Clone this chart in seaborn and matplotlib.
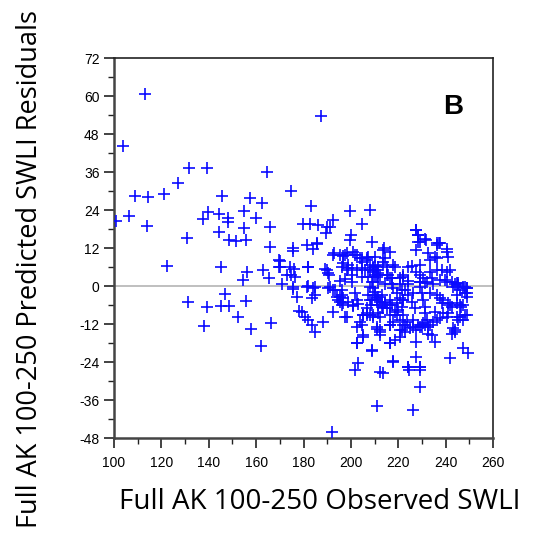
import matplotlib
matplotlib.use("Agg")
import matplotlib.pyplot as plt
import seaborn as sns
import pandas as pd
from matplotlib.ticker import MultipleLocator

# Observed SWLI (x) and predicted residuals (y)
swli_observed = [
    100.8, 106.5, 103.7, 113.2, 109.0, 114.5, 114.1, 121.1, 126.9, 131.8, 139.1, 130.7,
    137.7, 139.8, 144.3, 145.6, 148.2, 148.2, 144.4, 148.4, 151.4, 155.7, 154.9, 154.9,
    157.4, 159.8, 162.6, 164.7, 165.9, 165.9, 174.6, 175.6,
    122.2, 145.0, 156.0, 154.6, 163.0, 165.6, 170.0, 170.0, 175.4, 172.9, 174.6, 176.1,
    170.9, 175.4, 177.1, 178.2, 131.4, 139.1, 145.0, 147.0, 148.4, 138.0, 152.5, 155.6,
    158.0, 166.3, 162.2, 169.8, 169.8,
    187.4, 183.2, 199.6, 208.1, 179.9, 182.7, 186.2, 189.8, 191.2, 192.6, 189.5, 204.8,
    200.0, 199.6, 208.8, 214.1, 181.3, 185.5, 227.5, 228.2, 231.3, 228.4, 236.2, 237.3,
    240.4,
    184.1, 185.8, 192.9, 196.8, 198.2, 201.0, 202.7, 203.8, 204.9, 206.9, 208.1, 210.2,
    210.9, 209.2, 196.1, 198.9, 182.0, 189.8, 190.9, 200.3, 197.5, 204.9, 207.3, 209.4,
    210.9, 181.3, 184.8, 191.2, 175.7, 195.4, 200.3, 208.1,
    182.0, 184.1, 184.8, 183.5, 190.5, 193.3, 196.1, 195.4, 196.8, 194.7, 196.1, 201.0,
    203.1, 207.3, 208.1, 208.7, 206.6, 210.2, 210.9, 211.6, 179.5, 180.6, 182.0, 183.5,
    184.8, 188.1, 192.6, 197.5, 198.2, 203.8, 205.2, 206.6, 208.1, 210.9, 205.2, 202.4,
    209.0, 203.1, 201.7, 212.3,
    213.4, 229.2, 210.9, 226.3, 192.1, 224.6, 229.2,
    208.8, 211.6, 214.4, 217.2, 220.7, 224.2, 229.2, 232.0, 234.8, 240.4, 243.9, 245.3,
    209.4, 213.0, 210.9, 214.4, 216.5, 213.7, 211.6, 209.4, 208.8,
    217.9, 219.3, 221.4, 222.1, 221.4, 220.0, 218.6, 222.1,
    226.3, 225.6, 227.0, 226.3, 223.5, 222.8, 221.4, 220.7, 218.6, 216.5,
    229.2, 229.9, 230.6, 231.3, 231.3, 232.0, 230.6, 232.7, 232.7, 234.1, 229.2, 227.7,
    233.4, 236.2, 237.6, 238.3, 239.0, 241.1, 242.5, 241.1, 239.0, 235.5,
    246.0, 244.6, 245.3, 248.2, 248.9, 248.9, 242.5, 243.9, 235.5, 227.7,
    217.9, 224.2, 229.2, 227.7, 241.8, 247.4, 249.5, 210.9, 212.3, 216.5, 217.9,
    227.7, 228.4, 229.2, 227.7, 231.7, 232.7, 233.4, 235.5, 236.2, 237.6, 240.4, 241.1,
    213.7, 216.5, 213.7, 217.9, 209.4, 210.2, 211.6, 215.1, 216.5, 222.1, 224.2,
    225.6, 229.2, 227.7, 229.2, 230.6, 229.2, 231.3, 233.4, 236.2, 238.3, 240.4, 241.8,
    234.1, 237.6, 239.7, 242.5, 244.6, 248.2, 236.2,
    192.6, 195.4, 197.5, 201.7, 204.5, 206.6, 207.3,
    196.8, 198.9, 198.2, 200.3, 202.4, 204.5, 205.9, 208.1, 209.4, 211.6, 213.7, 215.1, 218.6,
    212.3, 215.8, 217.2, 220.7, 222.1, 224.2,
    176.4, 174.3, 182.0, 189.1, 190.5,
    192.6, 194.0, 196.1, 195.4, 196.8, 198.9, 201.0, 201.7, 202.4,
    210.2, 211.6, 212.3, 213.0, 214.4, 215.1, 216.5, 217.2, 219.3, 220.7, 222.1, 222.8,
    224.2,
    205.2, 206.6, 209.4, 212.3, 216.5, 219.3, 220.7, 222.1, 220.7, 222.8, 224.9, 226.3,
    228.4, 229.9, 231.3, 233.4, 234.8, 236.2, 237.6, 240.4,
    241.8, 244.6, 246.7, 247.4, 248.9, 248.2, 244.6, 246.0, 243.2, 245.3, 247.4, 248.9,
    246.0, 248.9, 247.4, 243.2, 243.9,
    202.4, 208.8, 205.2, 212.3, 216.5, 216.5, 212.3,
    217.9, 224.2, 229.2, 202.4, 204.5, 210.2, 214.4,
]
residuals = [
    20.6, 22.2, 44.2, 60.6, 28.5, 28.2, 19.0, 29.0, 32.4, 37.3, 37.3, 15.3,
    21.2, 23.5, 22.6, 28.5, 21.4, 20.3, 17.0, 14.5, 14.2, 14.5, 23.7, 18.2,
    27.7, 21.4, 26.1, 36.1, 18.7, 12.4, 30.1, 12.0,
    6.3, 6.1, 4.3, 1.9, 5.1, 2.4, 8.0, 6.1, 11.1, 3.5, 3.5, 5.3,
    0.6, -1.0, -3.4, -7.8, -5.2, -6.5, -6.2, -2.5, -6.2, -12.5, -9.7, -4.7,
    -13.6, -11.6, -18.9, 8.2, 5.9,
    53.8, 25.4, 23.7, 24.0, 19.5, 19.5, 19.3, 18.7, 18.7, 20.8, 16.8, 19.5,
    16.1, 14.5, 14.0, 11.9, 12.9, 13.5, 17.7, 16.1, 14.7, 13.8, 13.7, 13.7,
    11.6,
    11.6, 13.3, 10.3, 9.6, 10.3, 10.8, 9.8, 8.7, 7.7, 8.2, 6.6, 6.3,
    5.1, 4.5, 6.1, 5.6, 5.9, 5.1, 3.5, 3.5, 2.1, 2.7, 2.7, 2.9,
    2.7, -0.2, -0.2, -0.2, -0.2, 1.7, 1.4, -0.2,
    0.0, -0.7, -2.8, -3.9, -0.7, -1.3, -1.3, -3.4, -3.9, -4.4, -6.0, -6.3,
    -5.7, -2.8, -4.4, -6.0, -7.0, -1.8, -3.9, -6.0, -8.1, -9.7, -10.7, -12.3,
    -14.4, -11.3, -8.3, -9.7, -9.9, -11.3, -9.2, -8.6, -9.2, -13.7, -15.5, -17.9,
    -20.4, -24.4, -26.5, -27.0,
    -27.4, -31.8, -37.8, -39.2, -46.2, -26.5, -26.5,
    1.4, 1.4, 0.7, 0.7, 0.7, 0.7, 1.4, 1.4, 0.7, 1.4, 0.7, 0.3,
    -0.7, -2.8, -4.4, -5.0, -6.0, -7.0, -8.6, -9.7, -4.4,
    -0.7, -2.3, -1.3, -4.4, -6.5, -7.6, -8.1, -9.2,
    -2.3, -5.0, -7.0, -10.7, -11.3, -12.3, -13.9, -16.0, -17.1, -17.9,
    -0.2, -2.3, -4.4, -6.5, -8.6, -10.7, -11.8, -12.9, -15.0, -15.5, -12.9, -13.9,
    -2.3, -2.8, -3.9, -5.5, -4.4, -5.5, -6.5, -8.6, -8.6, -8.1,
    -6.0, -9.7, -10.7, -9.2, -2.3, -0.7, -15.0, -13.9, -17.6, -17.6,
    -23.6, -25.7, -25.7, -22.3, -22.8, -19.7, -21.3, -12.9, -14.4, -12.3, -11.3,
    17.7, 16.1, 14.0, 11.4, 14.5, 10.3, 8.2, 9.3, 12.9, 13.5, 10.8, 9.3,
    11.4, 10.8, 7.7, 6.6, 5.6, 3.5, 4.0, 3.5, 2.4, 2.9, 1.7,
    6.3, 6.6, 4.5, 3.5, 2.4, 1.4, 0.9, 4.5, 5.1, 5.1, 4.5, 5.1,
    2.4, 1.9, 1.9, 1.4, 0.9, -0.2, 8.7,
    9.8, 9.8, 9.8, 9.8, 8.7, 8.7, 9.3,
    7.2, 6.6, 5.1, 5.6, 5.1, 5.6, 5.1, 5.1, 6.1, 6.1, 6.6, 6.1, 6.1,
    3.5, 3.5, 2.4, 2.4, 3.5, 6.1,
    2.9, 6.1, 6.1, 5.3, 4.0,
    -1.3, -3.4, -2.8, -5.0, -5.5, -5.0, -6.0, -2.3, -4.4,
    -2.8, -3.4, -5.0, -6.5, -5.5, -7.0, -4.4, -6.0, -5.5, -3.9, -4.4, -1.3,
    -2.8,
    -9.2, -9.2, -9.2, -9.7, -9.2, -9.2, -10.7, -12.3, -13.9, -14.4, -13.4, -12.9,
    -12.3, -12.9, -12.3, -12.3, -11.3, -10.7, -10.2, -9.7,
    -6.0, -5.5, -6.5, -6.0, -3.4, -2.3, -2.8, -1.3, -0.2, 0.9, -0.2, -0.7,
    -9.7, -9.2, -10.7, -13.4, -14.4,
    -18.1, -20.2, -16.0, -15.5, -18.1, -12.3, -13.9,
    -23.9, -25.5, -25.5, -12.9, -12.3, 9.3, 8.7,
]

x_ticks = [100, 120, 140, 160, 180, 200, 220, 240, 260]
y_ticks = [-48, -36, -24, -12, 0, 12, 24, 36, 48, 60, 72]
x_label = "Full AK 100-250 Observed SWLI"
y_label = "Full AK 100-250 Predicted SWLI Residuals"
panel_label = "B"

df = pd.DataFrame({"observed": swli_observed, "residual": residuals})

sns.set_style("white")
plt.rcParams["font.family"] = ["Liberation Sans", "DejaVu Sans"]
plt.rcParams["axes.unicode_minus"] = False
plt.rcParams["text.color"] = "black"
plt.rcParams["axes.labelcolor"] = "black"
plt.rcParams["xtick.color"] = "black"
plt.rcParams["ytick.color"] = "black"

fig = plt.figure(figsize=(5.36, 5.39), dpi=100)
ax = fig.add_axes([114 / 536, 101 / 539, 379 / 536, 380 / 539])

ax.axhline(0, color="#b4b4b4", linewidth=1.2, zorder=1)
sns.scatterplot(data=df, x="observed", y="residual", marker="+", s=70,
                color="#0a0aff", linewidth=1.2, ax=ax, zorder=3)

ax.set_xlim(100, 260)
ax.set_ylim(-48, 72)
ax.set_xticks(x_ticks)
ax.set_yticks(y_ticks)
ax.xaxis.set_minor_locator(MultipleLocator(10))
ax.yaxis.set_minor_locator(MultipleLocator(6))
ax.tick_params(axis="both", which="major", direction="out", length=7, width=1.2,
               labelsize=10, color="#222222", labelcolor="black", bottom=True, left=True)
ax.tick_params(axis="both", which="minor", direction="out", length=4, width=1.0,
               color="#222222", bottom=True, left=True)
ax.tick_params(axis="x", pad=6)

for side in ["left", "bottom"]:
    ax.spines[side].set_linewidth(1.8)
    ax.spines[side].set_color("#444444")
for side in ["top", "right"]:
    ax.spines[side].set_linewidth(1.2)
    ax.spines[side].set_color("#222222")

ax.set_xlabel(x_label, fontsize=20, family=["Open Sans", "DejaVu Sans"], labelpad=13,
              color="black")
ax.set_ylabel(y_label, fontsize=19.5, family=["Open Sans", "DejaVu Sans"], labelpad=25,
              color="black")
ax.xaxis.label.set_x(0.543)
ax.yaxis.label.set_y(0.445)

ax.text(0.92, 0.87, panel_label, transform=ax.transAxes, fontsize=20,
        fontweight="bold", ha="right", va="center", color="black")

fig.savefig("out.png", dpi=100)
